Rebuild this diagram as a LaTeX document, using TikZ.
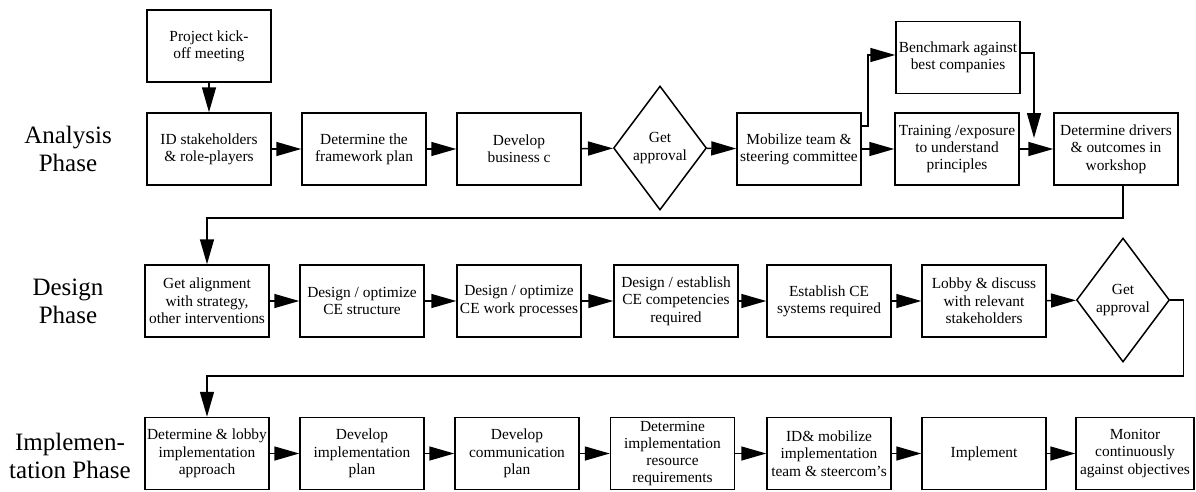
\documentclass[tikz,border=0pt]{standalone}
\usepackage{fontspec}
\setmainfont{Liberation Serif}
\usetikzlibrary{shapes.geometric,arrows.meta}
\begin{document}
\begin{tikzpicture}[x=1pt,y=-1pt,
  box/.style={draw,line width=1.5pt,rectangle,minimum width=124pt,minimum height=72pt,inner sep=0pt,align=center,font=\fontsize{15.4}{17.3}\selectfont},
  dia/.style={draw,line width=1.5pt,diamond,aspect=0.75,minimum width=93pt,minimum height=124pt,inner sep=0pt,align=center,font=\fontsize{15.4}{17.3}\selectfont},
  phase/.style={align=center,inner sep=0pt,font=\fontsize{25}{28}\selectfont},
  arr/.style={line width=1.5pt,-{Triangle[length=25pt,width=14pt]}}]
\useasboundingbox (0,0) rectangle (1196,491);
% phase labels
\node[phase] (pa) at (68,149) {Analysis\\Phase};
\node[phase] (pd) at (68,301) {Design\\Phase};
\node[phase] (pi) at (70,456) {Implemen-\\tation Phase};
% row 1
\node[box] (kick) at (209,46) {Project kick-\\off meeting};
\node[box] (id) at (209,149) {ID stakeholders\\\& role-players};
\node[box] (fw) at (364,149) {Determine the\\framework plan};
\node[box] (dev) at (519,149) {Develop\\business c};
\node[dia] (ap1) at (660,148) {Get\\approval};
\node[box] (mob) at (799,149) {Mobilize team \&\\steering committee};
\node[box] (bench) at (958,57.5) {Benchmark against\\best companies};
\node[box] (train) at (957,149) {Training /exposure\\to understand\\principles};
\node[box] (drv) at (1116,149) {Determine drivers\\\& outcomes in\\workshop};
\coordinate (bt) at (1034,138);
% row 2
\node[box] (al) at (207,301) {Get alignment\\with strategy,\\other interventions};
\node[box] (st) at (362,301) {Design / optimize\\CE structure};
\node[box] (wp) at (519,301) {Design / optimize\\CE work processes};
\node[box] (cp) at (676,301) {Design / establish\\CE competencies\\required};
\node[box] (sys) at (829,301) {Establish CE\\systems required};
\node[box] (lob) at (984,301) {Lobby \& discuss\\with relevant\\stakeholders};
\node[dia] (ap2) at (1123,300) {Get\\approval};
% row 3
\node[box] (det) at (207,453.5) {Determine \& lobby\\implementation\\approach};
\node[box] (dip) at (362,453.5) {Develop\\implementation\\plan};
\node[box] (dcp) at (517,453.5) {Develop\\communication\\plan};
\node[box] (res) at (672.5,453.5) {Determine\\implementation\\resource\\requirements};
\node[box] (idm) at (829,453.5) {ID\& mobilize\\implementation\\team \& steercom’s};
\node[box] (imp) at (984,453.5) {Implement};
\node[box,minimum width=118pt] (mon) at (1135,453.5) {Monitor\\continuously\\against objectives};
% connectors row 1
\draw[arr] (kick) -- (id);
\draw[arr] (id) -- (fw);
\draw[arr] (fw) -- (dev);
\draw[arr] (dev) -- (ap1);
\draw[arr] (ap1) -- (mob);
\draw[arr] (mob) -- (train);
\draw[arr] (train) -- (drv);
\draw[arr] ([yshift=23pt]mob.east) -- ++(6,0) |- ([yshift=2.5pt]bench.west);
\draw[arr] ([yshift=4.5pt]bench.east) -| (bt);
\draw[arr] ([xshift=7pt]drv.south) -- ++(0,32) -| (al.north);
% row 2
\draw[arr] (al) -- (st);
\draw[arr] (st) -- (wp);
\draw[arr] (wp) -- (cp);
\draw[arr] (cp) -- (sys);
\draw[arr] (sys) -- (lob);
\draw[arr] (lob) -- (ap2);
\draw[arr] (ap2.east) -- ++(13,0) -- ++(0,76) -| (det.north);
% row 3
\draw[arr] (det) -- (dip);
\draw[arr] (dip) -- (dcp);
\draw[arr] (dcp) -- (res);
\draw[arr] (res) -- (idm);
\draw[arr] (idm) -- (imp);
\draw[arr] (imp) -- (mon);
\end{tikzpicture}
\end{document}
